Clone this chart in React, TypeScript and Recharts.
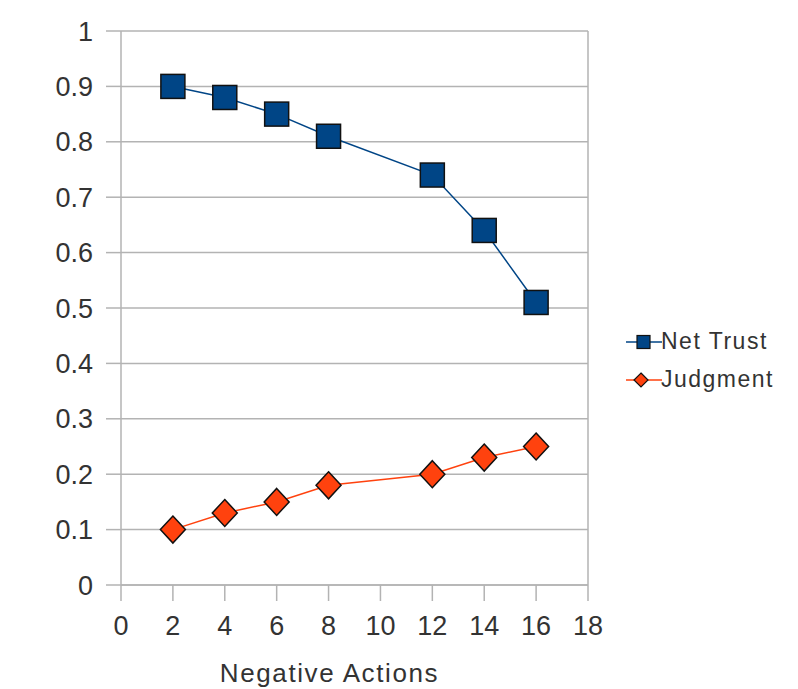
import React from 'react';
import { LineChart, Line, XAxis, YAxis, CartesianGrid, ReferenceLine } from 'recharts';

const actions = [2, 4, 6, 8, 12, 14, 16];
const netTrust = [0.9, 0.88, 0.85, 0.81, 0.74, 0.64, 0.51];
const judgment = [0.1, 0.13, 0.15, 0.18, 0.2, 0.23, 0.25];
const xTicks = [0, 2, 4, 6, 8, 10, 12, 14, 16, 18];
const yTicks = [0, 0.1, 0.2, 0.3, 0.4, 0.5, 0.6, 0.7, 0.8, 0.9, 1];
const seriesNames = ['Net Trust', 'Judgment'];
const xTitle = 'Negative Actions';

const data = actions.map((x, i) => ({ x, trust: netTrust[i], judgment: judgment[i] }));

const BLUE = '#004586';
const ORANGE = '#ff420e';
const GRID = '#b3b3b3';
const TEXT = '#333333';
const FONT = '"Liberation Sans", Arial, sans-serif';

const SquareDot = (props: any) => {
  const { cx, cy, index } = props;
  const s = 24;
  return <rect key={`sq-${index}`} x={cx - s / 2} y={cy - s / 2} width={s} height={s} fill={BLUE} stroke="#111" strokeWidth={1.5} />;
};

const DiamondDot = (props: any) => {
  const { cx, cy, index } = props;
  const w = 12.5, h = 13.5;
  return (
    <polygon
      key={`di-${index}`}
      points={`${cx},${cy - h} ${cx + w},${cy} ${cx},${cy + h} ${cx - w},${cy}`}
      fill={ORANGE}
      stroke="#111"
      strokeWidth={1.5}
    />
  );
};

const LegendBox = () => (
  <div style={{ position: 'absolute', left: 626, top: 325, width: 178, height: 70, fontFamily: FONT }}>
    <svg width={40} height={70} style={{ position: 'absolute', left: 0, top: 0 }}>
      <line x1={0} y1={17} x2={36} y2={17} stroke={BLUE} strokeWidth={1.5} />
      <rect x={11} y={10.5} width={13} height={13} fill={BLUE} stroke="#111" strokeWidth={1.2} />
      <line x1={0} y1={55} x2={36} y2={55} stroke={ORANGE} strokeWidth={1.5} />
      <polygon points="15,48 22,55 15,62 8,55" fill={ORANGE} stroke="#111" strokeWidth={1.2} />
    </svg>
    <div style={{ position: 'absolute', left: 35, top: 2, fontSize: 23, lineHeight: '28px', color: TEXT, letterSpacing: 1.5, whiteSpace: 'nowrap' }}>{seriesNames[0]}</div>
    <div style={{ position: 'absolute', left: 35, top: 40, fontSize: 23, lineHeight: '28px', color: TEXT, letterSpacing: 1.5, whiteSpace: 'nowrap' }}>{seriesNames[1]}</div>
  </div>
);

const fmtY = (v: number) => (v === 0 ? '0' : v === 1 ? '1' : v.toFixed(1));

export default function App() {
  return (
    <div style={{ position: 'absolute', left: 0, top: 0, width: 798, height: 689, background: '#fff' }}>
      <LineChart width={798} height={689} data={data} margin={{ top: 31, right: 210, left: 0, bottom: 0 }}>
        <CartesianGrid horizontal vertical={false} stroke={GRID} strokeWidth={1.5} />
        <ReferenceLine x={18} stroke={GRID} strokeWidth={1.5} />
        <XAxis
          dataKey="x"
          type="number"
          domain={[0, 18]}
          ticks={xTicks}
          interval={0}
          height={104}
          tickSize={16}
          tickMargin={15}
          axisLine={{ stroke: GRID, strokeWidth: 1.5 }}
          tickLine={{ stroke: GRID, strokeWidth: 1.5 }}
          tick={{ fill: TEXT, fontSize: 27, fontFamily: FONT }}
          label={{
            content: (p: any) => {
              const vb = p.viewBox || { x: 121, width: 467 };
              return (
                <text
                  x={vb.x + vb.width / 2 - 25}
                  y={682}
                  textAnchor="middle"
                  fill={TEXT}
                  fontSize={26}
                  fontFamily={FONT}
                  letterSpacing={1.6}
                >
                  {xTitle}
                </text>
              );
            },
          }}
        />
        <YAxis
          type="number"
          domain={[0, 1]}
          ticks={yTicks}
          interval={0}
          width={121}
          tickSize={15}
          tickMargin={13}
          tickFormatter={fmtY}
          axisLine={{ stroke: GRID, strokeWidth: 1.5 }}
          tickLine={{ stroke: GRID, strokeWidth: 1.5 }}
          tick={{ fill: TEXT, fontSize: 27, fontFamily: FONT }}
        />
        <Line
          dataKey="trust"
          name={seriesNames[0]}
          stroke={BLUE}
          strokeWidth={1.5}
          dot={SquareDot}
          activeDot={false}
          isAnimationActive={false}
        />
        <Line
          dataKey="judgment"
          name={seriesNames[1]}
          stroke={ORANGE}
          strokeWidth={1.5}
          dot={DiamondDot}
          activeDot={false}
          isAnimationActive={false}
        />
      </LineChart>
      <LegendBox />
    </div>
  );
}
